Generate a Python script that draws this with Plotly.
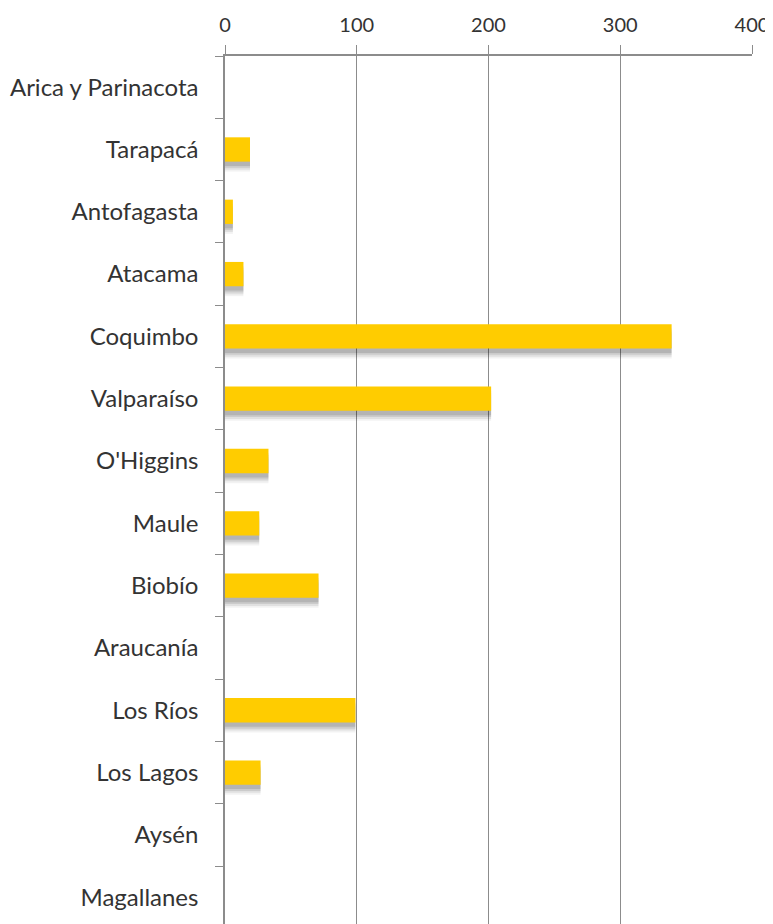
import plotly.graph_objects as go

regions = ["Arica y Parinacota", "Tarapacá", "Antofagasta", "Atacama", "Coquimbo",
           "Valparaíso", "O'Higgins", "Maule", "Biobío", "Araucanía", "Los Ríos",
           "Los Lagos", "Aysén", "Magallanes"]
values = [0, 19, 6, 14, 339, 202, 33, 26, 71, 0, 99, 27, 0, 0]
x_ticks = [0, 100, 200, 300, 400]

BAR_W = 0.39
FONT = "Lato, sans-serif"

fig = go.Figure()
# soft drop shadow layers
for dy, alpha in [(0.16, 0.05), (0.13, 0.07), (0.10, 0.09), (0.07, 0.11)]:
    fig.add_trace(go.Bar(
        y=regions, x=values, orientation="h", width=BAR_W,
        offset=-BAR_W / 2 + dy,
        marker=dict(color=f"rgba(0,0,0,{alpha})", line=dict(width=0)),
        hoverinfo="skip", showlegend=False,
    ))
fig.add_trace(go.Bar(
    y=regions, x=values, orientation="h", width=BAR_W,
    offset=-BAR_W / 2,
    marker=dict(color="#FFCC00", line=dict(width=0)),
    showlegend=False,
))

fig.update_layout(
    width=765, height=916,
    margin=dict(l=217, r=21, t=48, b=0),
    paper_bgcolor="white", plot_bgcolor="white",
    barmode="overlay",
    font=dict(family=FONT, color="#333333"),
    xaxis=dict(
        side="top", range=[0, 400], tickvals=x_ticks,
        ticktext=[str(v) for v in x_ticks],
        showgrid=True, gridcolor="#8c8c8c", gridwidth=1,
        showline=True, linecolor="#8c8c8c", linewidth=1.5,
        ticks="outside", ticklen=9, tickcolor="#8c8c8c",
        tickfont=dict(size=20, family=FONT, color="#333333"),
        ticklabelstandoff=5,
        zeroline=False, fixedrange=True, automargin=False,
    ),
    yaxis=dict(
        type="category", categoryorder="array", categoryarray=regions,
        range=[13.43, -0.5], autorange=False,
        showline=True, linecolor="#8c8c8c", linewidth=1.5,
        ticks="outside", ticklen=8, tickcolor="#8c8c8c", tickson="boundaries",
        tickfont=dict(size=24, family=FONT, color="#333333"),
        ticklabelstandoff=20,
        showgrid=False, zeroline=False, fixedrange=True, automargin=False,
    ),
)

fig.write_html("out.html")
